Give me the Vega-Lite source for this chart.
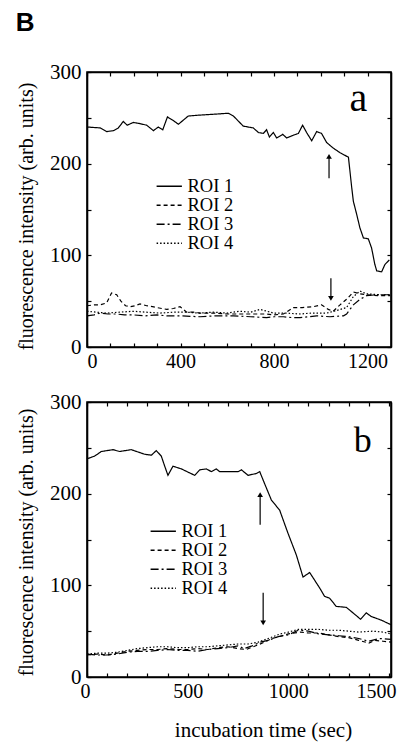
{
  "$schema": "https://vega.github.io/schema/vega-lite/v6.json",
  "padding": {"left": 15, "top": 10, "right": 4, "bottom": 4},
  "background": "white",
  "title": {"text": "B", "anchor": "start", "font": "Liberation Sans", "fontSize": 26, "fontWeight": "bold", "color": "black", "offset": 24},
  "spacing": 18,
  "resolve": {"legend": {"strokeDash": "independent"}},
  "config": {
    "view": {"stroke": "black", "strokeWidth": 1.6},
    "axis": {"labelFont": "Liberation Serif", "labelFontSize": 20, "labelColor": "black", "titleFont": "Liberation Serif", "titleFontSize": 20, "titleFontWeight": "normal", "titleColor": "black", "domainColor": "black", "domainWidth": 1.6, "tickColor": "black", "tickWidth": 1.2, "tickSize": -4, "grid": false, "labelPadding": 8, "format": "d"},
    "axisY": {"labelFontSize": 21, "labelPadding": 10},
    "legend": {"labelFont": "Liberation Serif", "labelFontSize": 18.5, "labelColor": "black"}
  },
  "datasets": {
    "top": [
      {"t":0,"v":240,"roi":"ROI 1"},{"t":56,"v":239,"roi":"ROI 1"},{"t":84,"v":235,"roi":"ROI 1"},{"t":113,"v":236,"roi":"ROI 1"},{"t":134,"v":239,"roi":"ROI 1"},{"t":155,"v":246,"roi":"ROI 1"},{"t":172,"v":242,"roi":"ROI 1"},{"t":198,"v":245,"roi":"ROI 1"},{"t":220,"v":244,"roi":"ROI 1"},{"t":255,"v":242,"roi":"ROI 1"},{"t":284,"v":236,"roi":"ROI 1"},{"t":305,"v":240,"roi":"ROI 1"},{"t":324,"v":237,"roi":"ROI 1"},{"t":344,"v":251,"roi":"ROI 1"},{"t":369,"v":247,"roi":"ROI 1"},{"t":391,"v":243,"roi":"ROI 1"},{"t":433,"v":252,"roi":"ROI 1"},{"t":483,"v":253,"roi":"ROI 1"},{"t":547,"v":254,"roi":"ROI 1"},{"t":604,"v":255,"roi":"ROI 1"},{"t":626,"v":252,"roi":"ROI 1"},{"t":668,"v":241,"roi":"ROI 1"},{"t":711,"v":239,"roi":"ROI 1"},{"t":733,"v":234,"roi":"ROI 1"},{"t":754,"v":233,"roi":"ROI 1"},{"t":768,"v":237,"roi":"ROI 1"},{"t":780,"v":229,"roi":"ROI 1"},{"t":797,"v":234,"roi":"ROI 1"},{"t":811,"v":228,"roi":"ROI 1"},{"t":837,"v":232,"roi":"ROI 1"},{"t":854,"v":228,"roi":"ROI 1"},{"t":882,"v":231,"roi":"ROI 1"},{"t":904,"v":233,"roi":"ROI 1"},{"t":922,"v":242,"roi":"ROI 1"},{"t":939,"v":234,"roi":"ROI 1"},{"t":961,"v":225,"roi":"ROI 1"},{"t":982,"v":235,"roi":"ROI 1"},{"t":1003,"v":233,"roi":"ROI 1"},{"t":1025,"v":223,"roi":"ROI 1"},{"t":1053,"v":217,"roi":"ROI 1"},{"t":1082,"v":212,"roi":"ROI 1"},{"t":1118,"v":207,"roi":"ROI 1"},{"t":1132,"v":174,"roi":"ROI 1"},{"t":1139,"v":159,"roi":"ROI 1"},{"t":1153,"v":145,"roi":"ROI 1"},{"t":1167,"v":130,"roi":"ROI 1"},{"t":1182,"v":119,"roi":"ROI 1"},{"t":1203,"v":118,"roi":"ROI 1"},{"t":1217,"v":108,"roi":"ROI 1"},{"t":1231,"v":90,"roi":"ROI 1"},{"t":1239,"v":83,"roi":"ROI 1"},{"t":1260,"v":82,"roi":"ROI 1"},{"t":1274,"v":90,"roi":"ROI 1"},{"t":1293,"v":95,"roi":"ROI 1"},
      {"t":0,"v":45,"roi":"ROI 2"},{"t":30,"v":46,"roi":"ROI 2"},{"t":56,"v":46,"roi":"ROI 2"},{"t":84,"v":48,"roi":"ROI 2"},{"t":105,"v":59,"roi":"ROI 2"},{"t":127,"v":57,"roi":"ROI 2"},{"t":145,"v":50,"roi":"ROI 2"},{"t":165,"v":45,"roi":"ROI 2"},{"t":184,"v":44,"roi":"ROI 2"},{"t":205,"v":45,"roi":"ROI 2"},{"t":227,"v":47,"roi":"ROI 2"},{"t":255,"v":45,"roi":"ROI 2"},{"t":280,"v":44,"roi":"ROI 2"},{"t":298,"v":43,"roi":"ROI 2"},{"t":320,"v":42,"roi":"ROI 2"},{"t":341,"v":41,"roi":"ROI 2"},{"t":370,"v":42,"roi":"ROI 2"},{"t":398,"v":44,"roi":"ROI 2"},{"t":426,"v":38,"roi":"ROI 2"},{"t":455,"v":38,"roi":"ROI 2"},{"t":483,"v":37,"roi":"ROI 2"},{"t":540,"v":37,"roi":"ROI 2"},{"t":600,"v":36,"roi":"ROI 2"},{"t":626,"v":36,"roi":"ROI 2"},{"t":700,"v":36,"roi":"ROI 2"},{"t":768,"v":36,"roi":"ROI 2"},{"t":800,"v":35,"roi":"ROI 2"},{"t":840,"v":36,"roi":"ROI 2"},{"t":882,"v":43,"roi":"ROI 2"},{"t":920,"v":43,"roi":"ROI 2"},{"t":968,"v":44,"roi":"ROI 2"},{"t":1003,"v":46,"roi":"ROI 2"},{"t":1032,"v":41,"roi":"ROI 2"},{"t":1053,"v":39,"roi":"ROI 2"},{"t":1082,"v":46,"roi":"ROI 2"},{"t":1110,"v":52,"roi":"ROI 2"},{"t":1139,"v":60,"roi":"ROI 2"},{"t":1167,"v":58,"roi":"ROI 2"},{"t":1196,"v":57,"roi":"ROI 2"},{"t":1250,"v":56,"roi":"ROI 2"},{"t":1296,"v":56,"roi":"ROI 2"},
      {"t":0,"v":34,"roi":"ROI 3"},{"t":30,"v":35,"roi":"ROI 3"},{"t":56,"v":37,"roi":"ROI 3"},{"t":90,"v":36,"roi":"ROI 3"},{"t":127,"v":36,"roi":"ROI 3"},{"t":160,"v":35,"roi":"ROI 3"},{"t":198,"v":35,"roi":"ROI 3"},{"t":250,"v":34,"roi":"ROI 3"},{"t":300,"v":35,"roi":"ROI 3"},{"t":341,"v":34,"roi":"ROI 3"},{"t":400,"v":34,"roi":"ROI 3"},{"t":483,"v":33,"roi":"ROI 3"},{"t":550,"v":34,"roi":"ROI 3"},{"t":626,"v":34,"roi":"ROI 3"},{"t":700,"v":33,"roi":"ROI 3"},{"t":768,"v":32,"roi":"ROI 3"},{"t":800,"v":33,"roi":"ROI 3"},{"t":840,"v":33,"roi":"ROI 3"},{"t":880,"v":32,"roi":"ROI 3"},{"t":911,"v":32,"roi":"ROI 3"},{"t":950,"v":33,"roi":"ROI 3"},{"t":982,"v":34,"roi":"ROI 3"},{"t":1039,"v":33,"roi":"ROI 3"},{"t":1097,"v":34,"roi":"ROI 3"},{"t":1110,"v":36,"roi":"ROI 3"},{"t":1139,"v":46,"roi":"ROI 3"},{"t":1167,"v":52,"roi":"ROI 3"},{"t":1196,"v":56,"roi":"ROI 3"},{"t":1239,"v":57,"roi":"ROI 3"},{"t":1296,"v":57,"roi":"ROI 3"},
      {"t":0,"v":39,"roi":"ROI 4"},{"t":40,"v":38,"roi":"ROI 4"},{"t":84,"v":37,"roi":"ROI 4"},{"t":140,"v":38,"roi":"ROI 4"},{"t":198,"v":39,"roi":"ROI 4"},{"t":250,"v":38,"roi":"ROI 4"},{"t":312,"v":37,"roi":"ROI 4"},{"t":370,"v":38,"roi":"ROI 4"},{"t":426,"v":38,"roi":"ROI 4"},{"t":480,"v":37,"roi":"ROI 4"},{"t":540,"v":38,"roi":"ROI 4"},{"t":600,"v":37,"roi":"ROI 4"},{"t":654,"v":39,"roi":"ROI 4"},{"t":700,"v":38,"roi":"ROI 4"},{"t":740,"v":41,"roi":"ROI 4"},{"t":770,"v":39,"roi":"ROI 4"},{"t":797,"v":37,"roi":"ROI 4"},{"t":850,"v":37,"roi":"ROI 4"},{"t":911,"v":36,"roi":"ROI 4"},{"t":960,"v":37,"roi":"ROI 4"},{"t":1025,"v":37,"roi":"ROI 4"},{"t":1070,"v":40,"roi":"ROI 4"},{"t":1110,"v":43,"roi":"ROI 4"},{"t":1139,"v":55,"roi":"ROI 4"},{"t":1167,"v":61,"roi":"ROI 4"},{"t":1196,"v":58,"roi":"ROI 4"},{"t":1250,"v":57,"roi":"ROI 4"},{"t":1296,"v":57,"roi":"ROI 4"}
    ],
    "bot": [
      {"t":0,"v":238,"roi":"ROI 1"},{"t":38,"v":241,"roi":"ROI 1"},{"t":71,"v":246,"roi":"ROI 1"},{"t":129,"v":248,"roi":"ROI 1"},{"t":162,"v":246,"roi":"ROI 1"},{"t":220,"v":248,"roi":"ROI 1"},{"t":286,"v":243,"roi":"ROI 1"},{"t":320,"v":242,"roi":"ROI 1"},{"t":344,"v":247,"roi":"ROI 1"},{"t":369,"v":241,"roi":"ROI 1"},{"t":386,"v":230,"roi":"ROI 1"},{"t":402,"v":220,"roi":"ROI 1"},{"t":427,"v":230,"roi":"ROI 1"},{"t":469,"v":227,"roi":"ROI 1"},{"t":535,"v":220,"roi":"ROI 1"},{"t":560,"v":226,"roi":"ROI 1"},{"t":593,"v":227,"roi":"ROI 1"},{"t":618,"v":224,"roi":"ROI 1"},{"t":642,"v":227,"roi":"ROI 1"},{"t":659,"v":224,"roi":"ROI 1"},{"t":750,"v":224,"roi":"ROI 1"},{"t":767,"v":226,"roi":"ROI 1"},{"t":800,"v":220,"roi":"ROI 1"},{"t":841,"v":222,"roi":"ROI 1"},{"t":858,"v":224,"roi":"ROI 1"},{"t":882,"v":211,"roi":"ROI 1"},{"t":916,"v":193,"roi":"ROI 1"},{"t":957,"v":182,"roi":"ROI 1"},{"t":998,"v":157,"roi":"ROI 1"},{"t":1040,"v":133,"roi":"ROI 1"},{"t":1073,"v":109,"roi":"ROI 1"},{"t":1106,"v":114,"roi":"ROI 1"},{"t":1156,"v":97,"roi":"ROI 1"},{"t":1180,"v":88,"roi":"ROI 1"},{"t":1205,"v":86,"roi":"ROI 1"},{"t":1238,"v":77,"roi":"ROI 1"},{"t":1288,"v":76,"roi":"ROI 1"},{"t":1321,"v":70,"roi":"ROI 1"},{"t":1359,"v":63,"roi":"ROI 1"},{"t":1387,"v":70,"roi":"ROI 1"},{"t":1412,"v":66,"roi":"ROI 1"},{"t":1462,"v":62,"roi":"ROI 1"},{"t":1510,"v":57,"roi":"ROI 1"},
      {"t":0,"v":24,"roi":"ROI 2"},{"t":50,"v":25,"roi":"ROI 2"},{"t":100,"v":24,"roi":"ROI 2"},{"t":150,"v":26,"roi":"ROI 2"},{"t":200,"v":28,"roi":"ROI 2"},{"t":250,"v":29,"roi":"ROI 2"},{"t":300,"v":30,"roi":"ROI 2"},{"t":350,"v":30,"roi":"ROI 2"},{"t":400,"v":31,"roi":"ROI 2"},{"t":450,"v":30,"roi":"ROI 2"},{"t":500,"v":30,"roi":"ROI 2"},{"t":550,"v":31,"roi":"ROI 2"},{"t":600,"v":30,"roi":"ROI 2"},{"t":650,"v":32,"roi":"ROI 2"},{"t":700,"v":33,"roi":"ROI 2"},{"t":750,"v":31,"roi":"ROI 2"},{"t":790,"v":30,"roi":"ROI 2"},{"t":850,"v":35,"roi":"ROI 2"},{"t":920,"v":42,"roi":"ROI 2"},{"t":1000,"v":47,"roi":"ROI 2"},{"t":1060,"v":49,"roi":"ROI 2"},{"t":1100,"v":48,"roi":"ROI 2"},{"t":1150,"v":48,"roi":"ROI 2"},{"t":1200,"v":46,"roi":"ROI 2"},{"t":1250,"v":44,"roi":"ROI 2"},{"t":1300,"v":43,"roi":"ROI 2"},{"t":1350,"v":40,"roi":"ROI 2"},{"t":1400,"v":37,"roi":"ROI 2"},{"t":1430,"v":40,"roi":"ROI 2"},{"t":1470,"v":39,"roi":"ROI 2"},{"t":1510,"v":38,"roi":"ROI 2"},
      {"t":0,"v":25,"roi":"ROI 3"},{"t":50,"v":24,"roi":"ROI 3"},{"t":100,"v":24,"roi":"ROI 3"},{"t":150,"v":25,"roi":"ROI 3"},{"t":200,"v":27,"roi":"ROI 3"},{"t":250,"v":28,"roi":"ROI 3"},{"t":300,"v":28,"roi":"ROI 3"},{"t":350,"v":29,"roi":"ROI 3"},{"t":400,"v":30,"roi":"ROI 3"},{"t":450,"v":29,"roi":"ROI 3"},{"t":500,"v":29,"roi":"ROI 3"},{"t":550,"v":28,"roi":"ROI 3"},{"t":600,"v":30,"roi":"ROI 3"},{"t":650,"v":31,"roi":"ROI 3"},{"t":700,"v":32,"roi":"ROI 3"},{"t":750,"v":34,"roi":"ROI 3"},{"t":780,"v":31,"roi":"ROI 3"},{"t":820,"v":34,"roi":"ROI 3"},{"t":860,"v":38,"roi":"ROI 3"},{"t":900,"v":40,"roi":"ROI 3"},{"t":950,"v":44,"roi":"ROI 3"},{"t":1000,"v":46,"roi":"ROI 3"},{"t":1050,"v":51,"roi":"ROI 3"},{"t":1100,"v":50,"roi":"ROI 3"},{"t":1150,"v":47,"roi":"ROI 3"},{"t":1200,"v":46,"roi":"ROI 3"},{"t":1250,"v":45,"roi":"ROI 3"},{"t":1300,"v":44,"roi":"ROI 3"},{"t":1350,"v":42,"roi":"ROI 3"},{"t":1400,"v":39,"roi":"ROI 3"},{"t":1450,"v":42,"roi":"ROI 3"},{"t":1510,"v":41,"roi":"ROI 3"},
      {"t":0,"v":25,"roi":"ROI 4"},{"t":50,"v":26,"roi":"ROI 4"},{"t":100,"v":26,"roi":"ROI 4"},{"t":150,"v":27,"roi":"ROI 4"},{"t":200,"v":29,"roi":"ROI 4"},{"t":250,"v":31,"roi":"ROI 4"},{"t":300,"v":32,"roi":"ROI 4"},{"t":350,"v":33,"roi":"ROI 4"},{"t":400,"v":33,"roi":"ROI 4"},{"t":450,"v":32,"roi":"ROI 4"},{"t":500,"v":32,"roi":"ROI 4"},{"t":550,"v":33,"roi":"ROI 4"},{"t":600,"v":33,"roi":"ROI 4"},{"t":650,"v":34,"roi":"ROI 4"},{"t":700,"v":35,"roi":"ROI 4"},{"t":750,"v":36,"roi":"ROI 4"},{"t":800,"v":36,"roi":"ROI 4"},{"t":850,"v":38,"roi":"ROI 4"},{"t":900,"v":42,"roi":"ROI 4"},{"t":960,"v":47,"roi":"ROI 4"},{"t":1000,"v":49,"roi":"ROI 4"},{"t":1050,"v":52,"roi":"ROI 4"},{"t":1100,"v":52,"roi":"ROI 4"},{"t":1150,"v":52,"roi":"ROI 4"},{"t":1200,"v":51,"roi":"ROI 4"},{"t":1250,"v":51,"roi":"ROI 4"},{"t":1300,"v":50,"roi":"ROI 4"},{"t":1350,"v":49,"roi":"ROI 4"},{"t":1420,"v":50,"roi":"ROI 4"},{"t":1470,"v":49,"roi":"ROI 4"},{"t":1510,"v":47,"roi":"ROI 4"}
    ],
    "arrowsTop": [
      {"t":1035,"from":184,"to":208,"dir":"up"},
      {"t":1043,"from":75,"to":53,"dir":"down"}
    ],
    "arrowsBot": [
      {"t":860,"from":166,"to":199,"dir":"up"},
      {"t":875,"from":92,"to":59,"dir":"down"}
    ]
  },
  "vconcat": [
    {
      "width": 304,
      "height": 275,
      "resolve": {"axis": {"x": "independent", "y": "independent"}},
      "layer": [
        {
          "data": {"name": "top"},
          "mark": {"type": "line", "color": "black", "strokeWidth": 1.2},
          "encoding": {
            "x": {"field": "t", "type": "quantitative", "scale": {"domain": [0, 1300], "nice": false, "zero": false},
                  "axis": {"orient": "bottom", "title": null, "values": [0,100,200,300,400,500,600,700,800,900,1000,1100,1200], "labelExpr": "datum.value % 400 === 0 ? datum.label : ''"}},
            "y": {"field": "v", "type": "quantitative", "scale": {"domain": [0, 300], "nice": false},
                  "axis": {"orient": "left", "title": "fluorescence intensity (arb. units)", "values": [0,50,100,150,200,250,300], "labelExpr": "datum.value % 100 === 0 ? datum.label : ''", "titlePadding": 13, "titleY": 144}},
            "strokeDash": {"field": "roi", "type": "nominal",
                           "scale": {"domain": ["ROI 1","ROI 2","ROI 3","ROI 4"], "range": [[1,0],[4,3],[8,3,2,3],[1.5,2]]},
                           "legend": {"orient": "none", "legendX": 73, "legendY": 105, "title": null, "symbolType": "M-2,0H2", "symbolSize": 160, "symbolStrokeWidth": 1.3, "symbolStrokeColor": "black", "symbolFillColor": "transparent", "rowPadding": 0, "labelOffset": 9}}
          }
        },
        {
          "data": {"name": "arrowsTop"},
          "mark": {"type": "rule", "color": "black", "strokeWidth": 1.2},
          "encoding": {
            "x": {"field": "t", "type": "quantitative", "axis": {"orient": "top", "title": null, "labels": false, "values": [0,100,200,300,400,500,600,700,800,900,1000,1100,1200]}},
            "y": {"field": "from", "type": "quantitative", "axis": {"orient": "right", "title": null, "labels": false, "values": [0,50,100,150,200,250,300]}},
            "y2": {"field": "to"}
          }
        },
        {
          "data": {"name": "arrowsTop"},
          "mark": {"type": "point", "filled": true, "color": "black", "size": 32, "opacity": 1},
          "encoding": {
            "x": {"field": "t", "type": "quantitative", "axis": null},
            "y": {"field": "to", "type": "quantitative", "axis": null},
            "shape": {"field": "dir", "type": "nominal", "scale": {"domain": ["up","down"], "range": ["triangle-up","triangle-down"]}, "legend": null}
          }
        },
        {
          "data": {"values": [{}]},
          "mark": {"type": "text", "font": "Liberation Serif", "fontSize": 40, "color": "black", "align": "center", "baseline": "middle"},
          "encoding": {
            "x": {"datum": 1160, "type": "quantitative", "axis": null},
            "y": {"datum": 271, "type": "quantitative", "axis": null},
            "text": {"value": "a"}
          }
        }
      ]
    },
    {
      "width": 304,
      "height": 275,
      "resolve": {"axis": {"x": "independent", "y": "independent"}},
      "layer": [
        {
          "data": {"name": "bot"},
          "mark": {"type": "line", "color": "black", "strokeWidth": 1.2},
          "encoding": {
            "x": {"field": "t", "type": "quantitative", "scale": {"domain": [0, 1510], "nice": false, "zero": false},
                  "axis": {"orient": "bottom", "title": "incubation time (sec)", "titleFontSize": 21, "titlePadding": 18, "titleX": 176, "values": [0,100,200,300,400,500,600,700,800,900,1000,1100,1200,1300,1400,1500], "labelExpr": "datum.value % 500 === 0 ? datum.label : ''", "labelFlush": 5, "labelFlushOffset": 7}},
            "y": {"field": "v", "type": "quantitative", "scale": {"domain": [0, 300], "nice": false},
                  "axis": {"orient": "left", "title": "fluorescence intensity (arb. units)", "values": [0,50,100,150,200,250,300], "labelExpr": "datum.value % 100 === 0 ? datum.label : ''", "titlePadding": 13, "titleY": 140}},
            "strokeDash": {"field": "roi", "type": "nominal",
                           "scale": {"domain": ["ROI 1","ROI 2","ROI 3","ROI 4"], "range": [[1,0],[4,3],[8,3,2,3],[1.5,2]]},
                           "legend": {"orient": "none", "legendX": 67, "legendY": 120, "title": null, "symbolType": "M-2,0H2", "symbolSize": 160, "symbolStrokeWidth": 1.3, "symbolStrokeColor": "black", "symbolFillColor": "transparent", "rowPadding": 0, "labelOffset": 9}}
          }
        },
        {
          "data": {"name": "arrowsBot"},
          "mark": {"type": "rule", "color": "black", "strokeWidth": 1.2},
          "encoding": {
            "x": {"field": "t", "type": "quantitative", "axis": {"orient": "top", "title": null, "labels": false, "values": [0,100,200,300,400,500,600,700,800,900,1000,1100,1200,1300,1400,1500]}},
            "y": {"field": "from", "type": "quantitative", "axis": {"orient": "right", "title": null, "labels": false, "values": [0,50,100,150,200,250,300]}},
            "y2": {"field": "to"}
          }
        },
        {
          "data": {"name": "arrowsBot"},
          "mark": {"type": "point", "filled": true, "color": "black", "size": 32, "opacity": 1},
          "encoding": {
            "x": {"field": "t", "type": "quantitative", "axis": null},
            "y": {"field": "to", "type": "quantitative", "axis": null},
            "shape": {"field": "dir", "type": "nominal", "scale": {"domain": ["up","down"], "range": ["triangle-up","triangle-down"]}, "legend": null}
          }
        },
        {
          "data": {"values": [{}]},
          "mark": {"type": "text", "font": "Liberation Serif", "fontSize": 36, "color": "black", "align": "center", "baseline": "middle"},
          "encoding": {
            "x": {"datum": 1370, "type": "quantitative", "axis": null},
            "y": {"datum": 258, "type": "quantitative", "axis": null},
            "text": {"value": "b"}
          }
        }
      ]
    }
  ]
}
